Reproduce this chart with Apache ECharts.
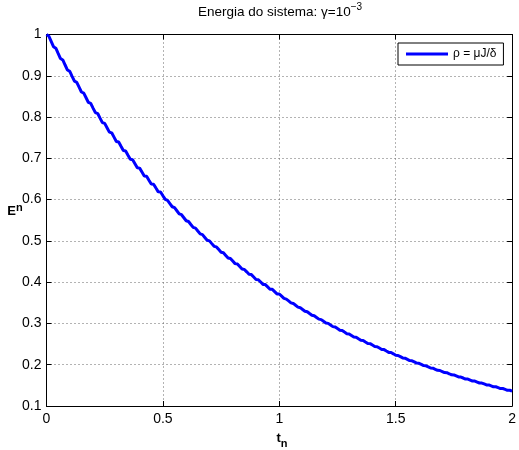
<!DOCTYPE html>
<html>
<head>
<meta charset="utf-8">
<script src="https://cdn.jsdelivr.net/npm/echarts@6/dist/echarts.min.js"></script>
<style>
  html, body { margin: 0; padding: 0; background: #fff; }
  #chart { width: 519px; height: 450px; }
</style>
</head>
<body>
<div id="chart"></div>
<script>
// Sample times t_n
const timeValues = [
  0.00,0.01,0.02,0.03,0.04,0.05,0.06,0.07,0.08,0.09,
  0.10,0.11,0.12,0.13,0.14,0.15,0.16,0.17,0.18,0.19,
  0.20,0.21,0.22,0.23,0.24,0.25,0.26,0.27,0.28,0.29,
  0.30,0.31,0.32,0.33,0.34,0.35,0.36,0.37,0.38,0.39,
  0.40,0.41,0.42,0.43,0.44,0.45,0.46,0.47,0.48,0.49,
  0.50,0.51,0.52,0.53,0.54,0.55,0.56,0.57,0.58,0.59,
  0.60,0.61,0.62,0.63,0.64,0.65,0.66,0.67,0.68,0.69,
  0.70,0.71,0.72,0.73,0.74,0.75,0.76,0.77,0.78,0.79,
  0.80,0.81,0.82,0.83,0.84,0.85,0.86,0.87,0.88,0.89,
  0.90,0.91,0.92,0.93,0.94,0.95,0.96,0.97,0.98,0.99,
  1.00,1.01,1.02,1.03,1.04,1.05,1.06,1.07,1.08,1.09,
  1.10,1.11,1.12,1.13,1.14,1.15,1.16,1.17,1.18,1.19,
  1.20,1.21,1.22,1.23,1.24,1.25,1.26,1.27,1.28,1.29,
  1.30,1.31,1.32,1.33,1.34,1.35,1.36,1.37,1.38,1.39,
  1.40,1.41,1.42,1.43,1.44,1.45,1.46,1.47,1.48,1.49,
  1.50,1.51,1.52,1.53,1.54,1.55,1.56,1.57,1.58,1.59,
  1.60,1.61,1.62,1.63,1.64,1.65,1.66,1.67,1.68,1.69,
  1.70,1.71,1.72,1.73,1.74,1.75,1.76,1.77,1.78,1.79,
  1.80,1.81,1.82,1.83,1.84,1.85,1.86,1.87,1.88,1.89,
  1.90,1.91,1.92,1.93,1.94,1.95,1.96,1.97,1.98,1.99,
  2.00
];

// System energy E^n at each sample time (step-like decay)
const energyValues = [
  1.0000,0.9960,0.9832,0.9704,0.9668,0.9542,0.9418,0.9384,0.9261,0.9139,
  0.9108,0.8988,0.8869,0.8841,0.8724,0.8607,0.8581,0.8467,0.8353,0.8330,
  0.8217,0.8106,0.8085,0.7975,0.7866,0.7848,0.7741,0.7634,0.7618,0.7513,
  0.7408,0.7394,0.7291,0.7189,0.7178,0.7077,0.6977,0.6967,0.6869,0.6771,
  0.6763,0.6667,0.6570,0.6565,0.6470,0.6376,0.6373,0.6280,0.6188,0.6186,
  0.6095,0.6005,0.5980,0.5904,0.5827,0.5804,0.5730,0.5655,0.5634,0.5561,
  0.5488,0.5469,0.5397,0.5326,0.5308,0.5238,0.5169,0.5152,0.5084,0.5016,
  0.5001,0.4934,0.4868,0.4854,0.4789,0.4724,0.4712,0.4648,0.4584,0.4573,
  0.4511,0.4449,0.4439,0.4378,0.4317,0.4309,0.4250,0.4190,0.4183,0.4125,
  0.4066,0.4060,0.4003,0.3946,0.3941,0.3885,0.3829,0.3826,0.3771,0.3716,
  0.3714,0.3660,0.3606,0.3590,0.3545,0.3499,0.3485,0.3440,0.3396,0.3382,
  0.3339,0.3296,0.3283,0.3240,0.3198,0.3186,0.3145,0.3104,0.3093,0.3052,
  0.3012,0.3002,0.2962,0.2923,0.2914,0.2875,0.2837,0.2828,0.2790,0.2753,
  0.2745,0.2708,0.2671,0.2665,0.2628,0.2592,0.2587,0.2551,0.2516,0.2511,
  0.2476,0.2441,0.2437,0.2403,0.2369,0.2366,0.2332,0.2299,0.2296,0.2264,
  0.2231,0.2224,0.2195,0.2165,0.2159,0.2130,0.2101,0.2095,0.2068,0.2039,
  0.2034,0.2007,0.1979,0.1974,0.1948,0.1920,0.1916,0.1890,0.1864,0.1860,
  0.1835,0.1809,0.1806,0.1781,0.1755,0.1753,0.1728,0.1703,0.1701,0.1678,
  0.1653,0.1652,0.1628,0.1604,0.1603,0.1580,0.1557,0.1556,0.1534,0.1511,
  0.1511,0.1489,0.1466,0.1466,0.1445,0.1423,0.1424,0.1403,0.1381,0.1382,
  0.1361
];

const seriesName = 'ρ = μJ/δ';
const titleMain = 'Energia do sistema: γ=10';
const titleExponent = '−3';

// Axis ranges and tick spacing
const xMin = 0, xMax = 2, xStep = 0.5;
const yMin = 0.1, yMax = 1, yStep = 0.1;

const FONT = "'Liberation Sans', Arial, Helvetica, sans-serif";
const fmt = v => String(+v.toFixed(2));

const chart = echarts.init(document.getElementById('chart'), null, { renderer: 'canvas' });

const gridLine = { show: true, lineStyle: { color: '#666', width: 1, type: [1, 3] } };
const boxLine = { show: true, onZero: false, lineStyle: { color: '#000', width: 1 } };
const tickIn = { show: true, inside: true, length: 5, lineStyle: { color: '#000', width: 1 } };

chart.setOption({
  animation: false,
  backgroundColor: '#fff',
  grid: { left: 46.5, top: 34.5, right: 1.5, bottom: 44, containLabel: false },
  legend: {
    left: 398, top: 43,
    data: [seriesName],
    icon: 'rect',
    itemWidth: 42, itemHeight: 3,
    padding: [5, 7, 5, 8],
    borderColor: '#000', borderWidth: 1, borderRadius: 0,
    backgroundColor: '#fff',
    textStyle: { fontFamily: FONT, fontSize: 12, color: '#000' }
  },
  xAxis: [
    {
      type: 'value', min: xMin, max: xMax, interval: xStep,
      axisLine: boxLine, axisTick: tickIn, splitLine: gridLine,
      axisLabel: { margin: 6, fontFamily: FONT, fontSize: 14, color: '#000', formatter: fmt }
    },
    {
      type: 'value', position: 'top', min: xMin, max: xMax, interval: xStep,
      axisLine: boxLine, axisTick: tickIn, splitLine: { show: false },
      axisLabel: { show: false }
    }
  ],
  yAxis: [
    {
      type: 'value', min: yMin, max: yMax, interval: yStep,
      axisLine: boxLine, axisTick: tickIn, splitLine: gridLine,
      axisLabel: { margin: 5, fontFamily: FONT, fontSize: 14, color: '#000', formatter: fmt }
    },
    {
      type: 'value', position: 'right', min: yMin, max: yMax, interval: yStep,
      axisLine: boxLine, axisTick: tickIn, splitLine: { show: false },
      axisLabel: { show: false }
    }
  ],
  series: [{
    name: seriesName,
    type: 'line',
    data: timeValues.map((t, i) => [t, energyValues[i]]),
    showSymbol: false,
    symbol: 'none',
    smooth: false,
    color: '#0000ff',
    lineStyle: { color: '#0000ff', width: 3 }
  }],
  graphic: [
    {
      type: 'text', x: 280, y: 12,
      style: {
        text: '{m|' + titleMain + '}{e|' + titleExponent + '}',
        align: 'center', verticalAlign: 'middle',
        rich: {
          m: { fontFamily: FONT, fontSize: 13.5, fill: '#000' },
          e: { fontFamily: FONT, fontSize: 10, fill: '#000', padding: [0, 0, 10, 0] }
        }
      }
    },
    {
      type: 'text', x: 15, y: 211,
      style: {
        text: '{b|E}{s|n}',
        align: 'center', verticalAlign: 'middle',
        rich: {
          b: { fontFamily: FONT, fontSize: 13, fontWeight: 'bold', fill: '#000' },
          s: { fontFamily: FONT, fontSize: 11, fontWeight: 'bold', fill: '#000', padding: [0, 0, 7, 0] }
        }
      }
    },
    {
      type: 'text', x: 282, y: 441,
      style: {
        text: '{b|t}{s|n}',
        align: 'center', verticalAlign: 'middle',
        rich: {
          b: { fontFamily: FONT, fontSize: 13, fontWeight: 'bold', fill: '#000', padding: [0, 0, 6, 0] },
          s: { fontFamily: FONT, fontSize: 11, fontWeight: 'bold', fill: '#000', padding: [6, 0, 0, 0] }
        }
      }
    }
  ]
});
</script>
</body>
</html>
